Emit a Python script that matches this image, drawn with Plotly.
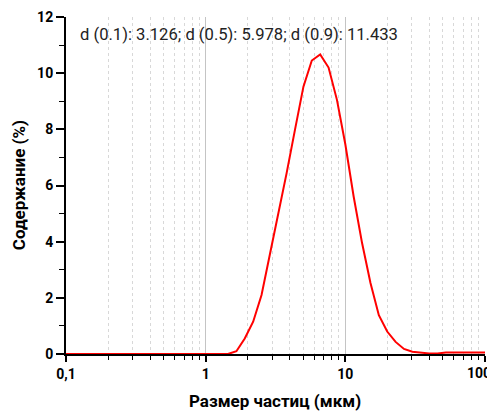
import plotly.graph_objects as go

# particle size bins (µm)
sizes = [0.0955, 0.1096, 0.1259, 0.1445, 0.1660, 0.1905, 0.2188, 0.2512, 0.2884, 0.3311,
         0.3802, 0.4365, 0.5012, 0.5754, 0.6607, 0.7586, 0.8710, 1.000, 1.148, 1.318,
         1.445, 1.660, 1.905, 2.188, 2.512, 2.884, 3.311, 3.802, 4.365, 5.012,
         5.754, 6.607, 7.586, 8.710, 10.00, 11.48, 13.18, 15.14, 17.38, 19.95,
         22.91, 26.30, 30.20, 34.67, 39.81, 45.71, 52.48, 60.26, 69.18, 79.43,
         91.20, 104.7]
# volume content (%)
content = [0, 0, 0, 0, 0, 0, 0, 0, 0, 0,
           0, 0, 0, 0, 0, 0, 0, 0, 0, 0,
           0.0, 0.1, 0.55, 1.15, 2.1, 3.55, 4.95, 6.45, 8.0, 9.52,
           10.45, 10.67, 10.2, 9.05, 7.47, 5.6, 3.95, 2.53, 1.38, 0.8,
           0.43, 0.18, 0.08, 0.04, 0.02, 0.02, 0.05, 0.05, 0.05, 0.05,
           0.05, 0.05]

x_tickvals = [0.1, 1, 10, 100]
x_ticktext = ["0,1", "1", "10", ""]
x_last_label = "100"
x_minor = [0.2, 0.3, 0.4, 0.5, 0.6, 0.7, 0.8, 0.9,
           2, 3, 4, 5, 6, 7, 8, 9,
           20, 30, 40, 50, 60, 70, 80, 90]
y_tickvals = [0, 2, 4, 6, 8, 10, 12]
y_minor = [1, 3, 5, 7, 9, 11]

x_title = "Размер частиц (мкм)"
y_title = "Содержание (%)"
stats_text = "d (0.1): 3.126; d (0.5): 5.978; d (0.9): 11.433"

fig = go.Figure()
fig.add_trace(go.Scatter(x=sizes, y=content, mode="lines",
                         line=dict(color="#ff0000", width=2), showlegend=False))

font_main = "Roboto, 'Liberation Sans', sans-serif"

# the page body adds an 8px margin, so the figure is sized to fit the window
fig.update_layout(
    width=487, height=406,
    margin=dict(l=58, r=10, t=9, b=60),
    paper_bgcolor="white", plot_bgcolor="white",
    font=dict(family=font_main, color="black"),
    xaxis=dict(
        type="log", range=[-1.0002, 2.0002], automargin=False,
        tickvals=x_tickvals, ticktext=x_ticktext,
        tickfont=dict(size=14, family=font_main, weight="bold"),
        ticks="outside", ticklen=6, tickwidth=1.5, tickcolor="black",
        showline=True, linecolor="black", linewidth=2,
        showgrid=True, gridcolor="#c4c4c4", gridwidth=1,
        zeroline=False,
        minor=dict(tickvals=x_minor, ticks="outside", ticklen=4, tickwidth=1.2,
                   tickcolor="black", showgrid=True, gridcolor="#d8d8d8",
                   griddash="dot", gridwidth=1),
    ),
    yaxis=dict(
        range=[0, 12], automargin=False,
        tickvals=y_tickvals,
        tickfont=dict(size=14, family=font_main, weight="bold"),
        ticks="outside", ticklen=8, tickwidth=1.5, tickcolor="black",
        showline=True, linecolor="black", linewidth=2,
        showgrid=False, zeroline=False,
        minor=dict(tickvals=y_minor, ticks="outside", ticklen=5, tickwidth=1.2,
                   tickcolor="black", showgrid=False),
    ),
    annotations=[
        dict(text=stats_text, xref="paper", yref="paper",
             x=0.0286, y=0.9466, xanchor="left", yanchor="middle",
             showarrow=False, font=dict(size=16.6, family=font_main, color="#222")),
        dict(text=x_title, xref="paper", yref="paper",
             x=0.499, y=-0.139, xanchor="center", yanchor="middle",
             showarrow=False, font=dict(size=17, family=font_main, weight="bold")),
        dict(text=y_title, xref="paper", yref="paper", textangle=-90,
             x=-0.112, y=0.501, xanchor="center", yanchor="middle",
             showarrow=False, font=dict(size=17, family=font_main, weight="bold")),
        dict(text=x_last_label, xref="x", yref="paper",
             x=2, y=-0.055, xanchor="right", yanchor="middle", xshift=8,
             showarrow=False, font=dict(size=14, family=font_main, weight="bold")),
    ],
)

fig.write_html("out.html")
